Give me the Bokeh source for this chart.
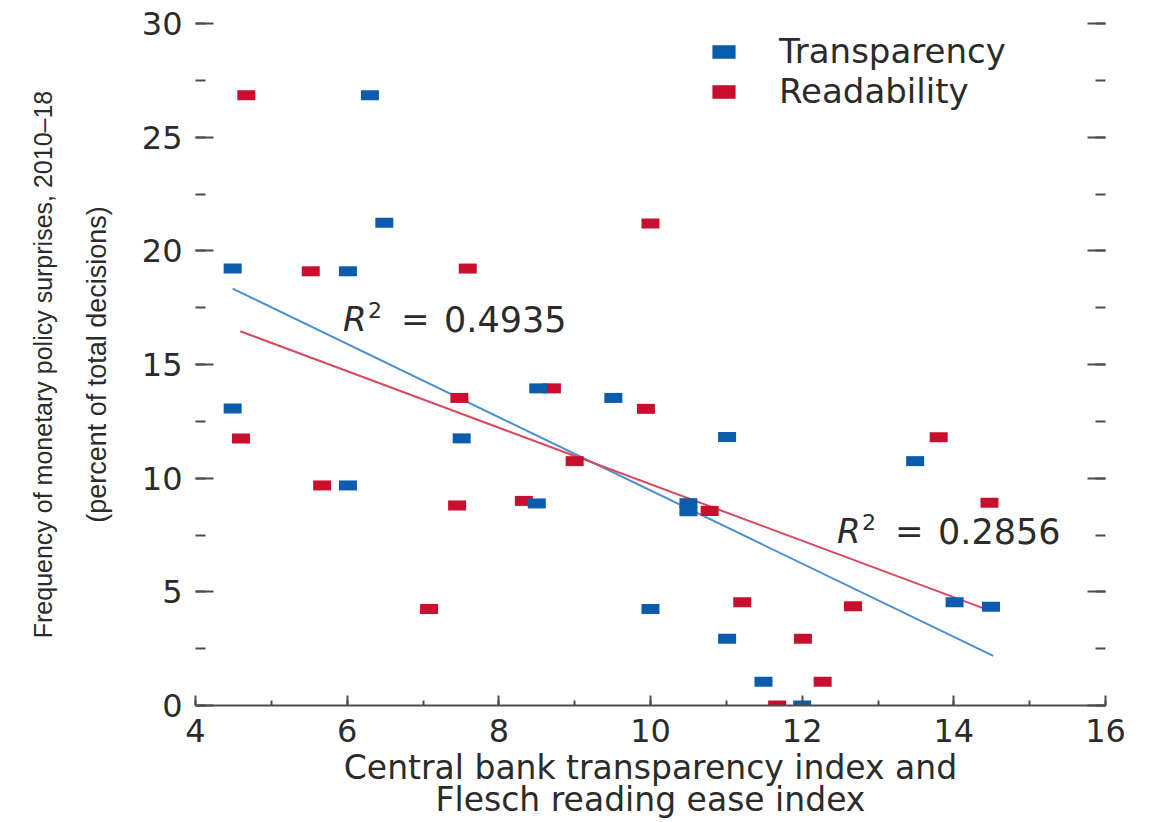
from bokeh.plotting import figure
from bokeh.models import (LinearAxis, SingleIntervalTicker, FixedTicker, Legend,
                          LegendItem, Label)
from bokeh.embed import file_html
from bokeh.resources import INLINE

# ---- data ----
trans_x = [4.49, 4.49, 6.30, 6.49, 6.01, 6.01, 7.51, 8.52, 8.50, 9.51,
           10.50, 10.50, 10.00, 11.01, 11.01, 11.49, 12.00, 13.49, 14.01, 14.49]
trans_y = [19.22, 13.07, 26.84, 21.23, 19.10, 9.68, 11.75, 13.95, 8.89, 13.53,
           8.90, 8.55, 4.24, 11.81, 2.94, 1.05, 0.00, 10.75, 4.54, 4.34]

read_x = [4.67, 4.60, 5.52, 5.67, 7.59, 7.48, 7.45, 7.08, 8.33, 8.70, 9.00,
          9.94, 10.00, 10.78, 11.21, 11.67, 12.01, 12.27, 12.67, 13.80, 14.47]
read_y = [26.84, 11.75, 19.10, 9.68, 19.22, 13.53, 8.80, 4.24, 9.00, 13.95, 10.75,
          13.05, 21.20, 8.56, 4.54, 0.00, 2.94, 1.05, 4.37, 11.80, 8.92]

trans_fit_x = [4.49, 14.52]
trans_fit_y = [18.34, 2.18]
read_fit_x = [4.59, 14.42]
read_fit_y = [16.46, 4.24]

series_names = ["Transparency", "Readability"]
r2_values = ["0.4935", "0.2856"]
r2_anchor_x = [5.945, 12.46]
r2_anchor_y = [16.98, 7.67]

x_title_1 = "Central bank transparency index and"
x_title_2 = "Flesch reading ease index"
y_title_1 = "Frequency of monetary policy surprises, 2010\u201318"
y_title_2 = "(percent of total decisions)"

# ---- style ----
FONT = "DejaVu Sans"
NARROW = "Liberation Sans"
TXT = "#2b2b2b"
AX = "#4d4d4d"
BLUE = "#0b5cad"
RED = "#c8102e"
BLUE_LINE = "#4a8fd3"
RED_LINE = "#d9485f"

p = figure(frame_width=910, frame_height=682, x_range=(4, 16), y_range=(0, 30),
           output_backend="svg", toolbar_location=None,
           min_border_left=195, min_border_right=38, min_border_top=23,
           min_border_bottom=10)
p.xgrid.visible = False
p.ygrid.visible = False
p.outline_line_color = None
p.background_fill_color = "white"

# bottom axis
xa = p.xaxis[0]
xa.ticker = SingleIntervalTicker(interval=2, num_minor_ticks=2)
xa.axis_line_color = AX
xa.axis_line_width = 2
xa.major_tick_in = 10
xa.major_tick_out = 0
xa.minor_tick_in = 5
xa.minor_tick_out = 0
xa.major_tick_line_color = AX
xa.minor_tick_line_color = AX
xa.major_tick_line_width = 2
xa.minor_tick_line_width = 2
xa.major_label_text_font = FONT
xa.major_label_text_font_size = "32px"
xa.major_label_text_color = TXT
xa.major_label_standoff = 13
xa.axis_label = x_title_1
xa.axis_label_text_font = FONT
xa.axis_label_text_font_size = "33px"
xa.axis_label_text_font_style = "normal"
xa.axis_label_text_color = TXT
xa.axis_label_standoff = 3

xa2 = LinearAxis(ticker=FixedTicker(ticks=[]), axis_line_color=None,
                 major_tick_out=0, minor_tick_out=0, major_tick_in=0, minor_tick_in=0,
                 major_label_standoff=0, axis_label=x_title_2,
                 axis_label_text_font=FONT, axis_label_text_font_size="33px",
                 axis_label_text_font_style="normal", axis_label_text_color=TXT,
                 axis_label_standoff=-10)
p.add_layout(xa2, "below")

# left axis
ya = p.yaxis[0]
ya.ticker = SingleIntervalTicker(interval=5, num_minor_ticks=2)
ya.axis_line_color = None
ya.major_tick_in = 18
ya.major_tick_out = 0
ya.minor_tick_in = 10
ya.minor_tick_out = 0
ya.major_tick_line_color = AX
ya.minor_tick_line_color = AX
ya.major_tick_line_width = 2
ya.minor_tick_line_width = 2
ya.major_label_text_font = FONT
ya.major_label_text_font_size = "32px"
ya.major_label_text_color = TXT
ya.major_label_standoff = 13
ya.axis_label = y_title_2
ya.axis_label_text_font = NARROW
ya.axis_label_text_font_size = "27px"
ya.axis_label_text_font_style = "normal"
ya.axis_label_text_color = TXT
ya.axis_label_standoff = 27

ya2 = LinearAxis(ticker=FixedTicker(ticks=[]), axis_line_color=None,
                 major_tick_out=0, minor_tick_out=0, major_tick_in=0, minor_tick_in=0,
                 major_label_standoff=0, axis_label=y_title_1,
                 axis_label_text_font=NARROW, axis_label_text_font_size="25px",
                 axis_label_text_font_style="normal", axis_label_text_color=TXT,
                 axis_label_standoff=22)
p.add_layout(ya2, "left")

# right axis (ticks only)
ra = LinearAxis(ticker=SingleIntervalTicker(interval=5, num_minor_ticks=2),
                axis_line_color=None, major_tick_in=18, major_tick_out=0,
                minor_tick_in=10, minor_tick_out=0,
                major_tick_line_color=AX, minor_tick_line_color=AX,
                major_tick_line_width=2, minor_tick_line_width=2,
                major_label_text_color=None, major_label_standoff=0)
p.add_layout(ra, "right")

# trend lines
p.line(trans_fit_x, trans_fit_y, line_color=BLUE_LINE, line_width=2)
p.line(read_fit_x, read_fit_y, line_color=RED_LINE, line_width=2)

# markers
r_red = p.rect(read_x, read_y, width=18, height=10, width_units="screen",
               height_units="screen", fill_color=RED, line_color=None)
r_blue = p.rect(trans_x, trans_y, width=18, height=10, width_units="screen",
                height_units="screen", fill_color=BLUE, line_color=None)

legend = Legend(items=[LegendItem(label=series_names[0], renderers=[r_blue]),
                       LegendItem(label=series_names[1], renderers=[r_red])],
                location=(514, 594), orientation="vertical",
                border_line_color=None, background_fill_alpha=0,
                padding=0, margin=0, spacing=0,
                glyph_width=29, glyph_height=17, label_standoff=41,
                label_text_font=FONT, label_text_font_size="34px",
                label_text_color=TXT, label_text_line_height=1.0)
p.add_layout(legend)

# R^2 annotations
for ax_, ay_, val in zip(r2_anchor_x, r2_anchor_y, r2_values):
    p.add_layout(Label(x=ax_, y=ay_, text="R", text_font=FONT, text_font_size="34px",
                       text_font_style="italic", text_color=TXT,
                       text_baseline="alphabetic"))
    p.add_layout(Label(x=ax_, y=ay_, x_offset=25, y_offset=9, text="2", text_font=FONT,
                       text_font_size="22px", text_color=TXT,
                       text_baseline="alphabetic"))
    p.add_layout(Label(x=ax_, y=ay_, x_offset=58, text="=", text_font=FONT,
                       text_font_size="34px", text_color=TXT,
                       text_baseline="alphabetic"))
    p.add_layout(Label(x=ax_, y=ay_, x_offset=101, text=val, text_font=FONT,
                       text_font_size="35px", text_color=TXT,
                       text_baseline="alphabetic"))

open("out.html", "w").write(file_html(p, INLINE))
